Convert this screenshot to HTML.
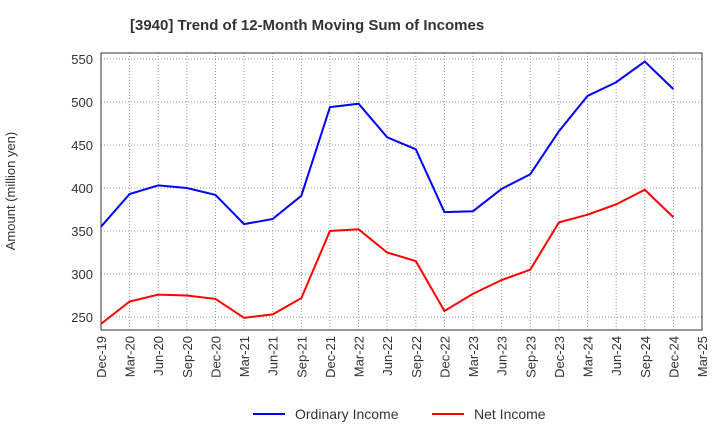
<!DOCTYPE html>
<html><head><meta charset="utf-8"><style>
body{margin:0;background:#fff;font-family:"Liberation Sans",Arial,sans-serif}
svg text{font-family:"Liberation Sans",Arial,sans-serif}
</style></head><body>
<svg id="c" width="720" height="440" xmlns="http://www.w3.org/2000/svg">
<text x="130" y="30" font-size="15" font-weight="bold" fill="#333">[3940]  Trend of 12-Month Moving Sum of Incomes</text>
<text transform="translate(15,191) rotate(-90)" text-anchor="middle" font-size="13" fill="#333">Amount (million yen)</text>
<g id="grid"></g><g id="axes"></g><g id="series"></g>
<g>
<line x1="253" y1="414" x2="285" y2="414" stroke="#0000ff" stroke-width="2"/>
<text x="295" y="419" font-size="14" fill="#333">Ordinary Income</text>
<line x1="432" y1="414" x2="464" y2="414" stroke="#ff0000" stroke-width="2"/>
<text x="474" y="419" font-size="14" fill="#333">Net Income</text>
</g>
</svg>
<script>
const categories=["Dec-19","Mar-20","Jun-20","Sep-20","Dec-20","Mar-21","Jun-21","Sep-21","Dec-21","Mar-22","Jun-22","Sep-22","Dec-22","Mar-23","Jun-23","Sep-23","Dec-23","Mar-24","Jun-24","Sep-24","Dec-24","Mar-25"];
const ordinaryIncome=[355,393,403,400,392,358,364,391,494,498,459,445,372,373,399,416,466,507,523,547,515];
const netIncome=[242,268,276,275,271,249,253,272,350,352,325,315,257,277,293,305,360,369,381,398,366];
const yTicks=[250,300,350,400,450,500,550];
const L=101,R=702,T=53,B=330;
const x=i=>L+i*(R-L)/(categories.length-1);
const y=v=>317-(v-250)*0.86;
const NS="http://www.w3.org/2000/svg";
function mk(t,a,p){const e=document.createElementNS(NS,t);for(const k in a)e.setAttribute(k,a[k]);p.appendChild(e);return e;}
const g=document.getElementById('grid'),ax=document.getElementById('axes'),s=document.getElementById('series');
yTicks.forEach(v=>{
const l=mk('line',{x1:L,x2:R,y1:y(v),y2:y(v),stroke:'#999','stroke-dasharray':'1,2'},g);


const t=mk('text',{x:L-8,y:y(v)+5,'text-anchor':'end','font-size':13,fill:'#333'},ax);t.textContent=v;


});
categories.forEach((c,i)=>{
const l=mk('line',{x1:x(i),x2:x(i),y1:T,y2:B,stroke:'#999','stroke-dasharray':'1,2'},g);


const t=mk('text',{transform:`translate(${x(i)+5},${B+6}) rotate(-90)`,'text-anchor':'end','font-size':13,fill:'#333'},ax);t.textContent=c;


});
const f=mk('rect',{x:L,y:T,width:R-L,height:B-T,fill:'none',stroke:'#333'},ax);


[[ordinaryIncome,'#0000ff','ordinary-income-line'],[netIncome,'#ff0000','net-income-line']].forEach(([d,c,n])=>{
const p=mk('polyline',{points:d.map((v,i)=>x(i)+','+y(v)).join(' '),fill:'none',stroke:c,'stroke-width':2},s);


});
</script>
</body></html>
